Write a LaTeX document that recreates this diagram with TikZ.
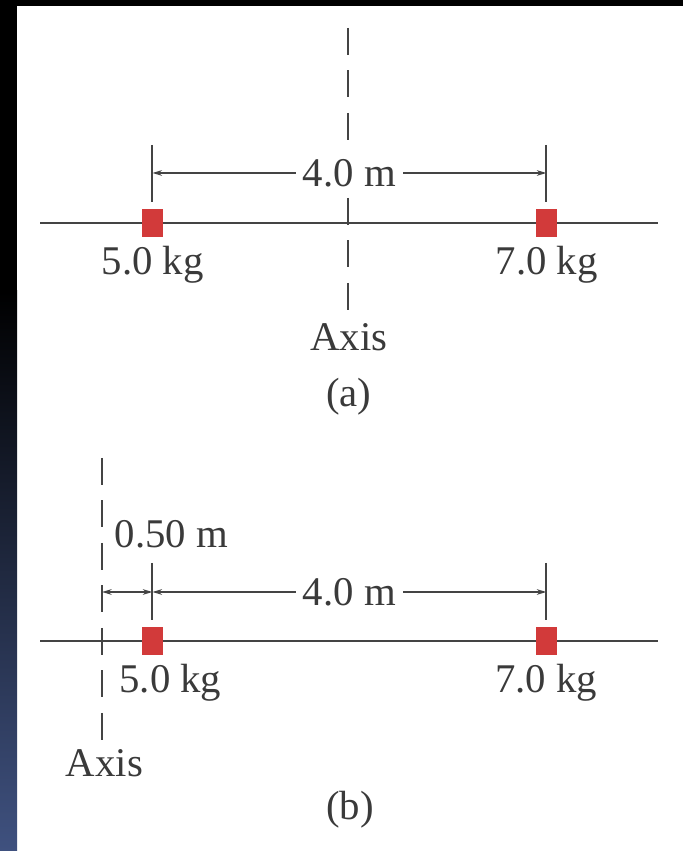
\documentclass[tikz,border=0pt]{standalone}
\usepackage{fontspec}
\setmainfont{Liberation Serif}
\usetikzlibrary{arrows.meta}
\definecolor{rod}{HTML}{444444}
\definecolor{ink}{HTML}{3A3A3A}
\definecolor{massred}{HTML}{D23A3A}
\definecolor{stripblue}{HTML}{3F517F}
\begin{document}
\begin{tikzpicture}[
  rodline/.style={draw=rod,line width=1.8pt},
  axisline/.style={draw=rod,line width=1.7pt,dash pattern=on 0.675cm off 0.3875cm},
  extline/.style={draw=rod,line width=1.3pt},
  dimline/.style={draw=rod,line width=1.3pt,{Stealth[length=0.24cm,width=0.14cm]}-{Stealth[length=0.24cm,width=0.14cm]}},
  mass/.style={fill=massred,minimum width=0.52cm,minimum height=0.7cm,inner sep=0pt},
  lbl/.style={text=ink,font=\fontsize{29}{34}\selectfont,inner sep=0pt,anchor=base},
  dimlbl/.style={lbl,anchor=center,fill=white,inner xsep=0.17cm,inner ysep=0.15cm}]
\useasboundingbox (0,0) rectangle (17.075,21.275);
% dark frame
\fill[black] (0,21.125) rectangle (17.075,21.275);
\fill[black] (0,14) rectangle (0.425,21.275);
\shade[top color=black,bottom color=stripblue] (0,0) rectangle (0.425,14);
% (a) axis through the middle
\coordinate (aL) at (1.0,15.7); \coordinate (aR) at (16.45,15.7);
\coordinate (axTopA) at (8.7,20.575); \coordinate (axBotA) at (8.7,13.525);
\draw[rodline] (aL) -- (aR);
\draw[axisline] (axTopA) -- (axBotA);
\node[mass] (m5a) at (3.81,15.7) {};
\node[mass] (m7a) at (13.66,15.7) {};
\draw[extline] (3.81,17.65) coordinate (e5a) -- (3.81,16.225);
\draw[extline] (13.66,17.65) coordinate (e7a) -- (13.66,16.225);
\coordinate (d5a) at (3.81,16.95); \coordinate (d7a) at (13.66,16.95);
\draw[dimline] (d5a) -- node[dimlbl] (lenA) {4.0 m} (d7a);
\node[lbl] (kg5a) at (3.82,14.4) {5.0 kg};
\node[lbl] (kg7a) at (13.67,14.4) {7.0 kg};
\node[lbl] (axisA) at (8.72,12.5) {Axis};
\node[lbl] (capA) at (8.72,11.1) {(a)};
% (b) axis through the 5.0 kg end
\coordinate (bL) at (1.0,5.25); \coordinate (bR) at (16.45,5.25);
\coordinate (axTopB) at (2.55,9.825); \coordinate (axBotB) at (2.55,2.775);
\draw[rodline] (bL) -- (bR);
\draw[axisline] (axTopB) -- (axBotB);
\node[mass] (m5b) at (3.81,5.25) {};
\node[mass] (m7b) at (13.66,5.25) {};
\draw[extline] (3.81,7.2) coordinate (e5b) -- (3.81,5.775);
\draw[extline] (13.66,7.2) coordinate (e7b) -- (13.66,5.775);
\coordinate (d0b) at (2.55,6.475);
\coordinate (d5b) at (3.81,6.475); \coordinate (d7b) at (13.66,6.475);
\draw[dimline] (d0b) -- (d5b);
\draw[dimline] (d5b) -- node[dimlbl] (lenB) {4.0 m} (d7b);
\node[lbl] (offB) at (4.29,7.575) {0.50 m};
\node[lbl] (kg5b) at (4.26,3.95) {5.0 kg};
\node[lbl] (kg7b) at (13.65,3.95) {7.0 kg};
\node[lbl] (axisB) at (2.61,1.85) {Axis};
\node[lbl] (capB) at (8.75,0.775) {(b)};
\end{tikzpicture}
\end{document}
